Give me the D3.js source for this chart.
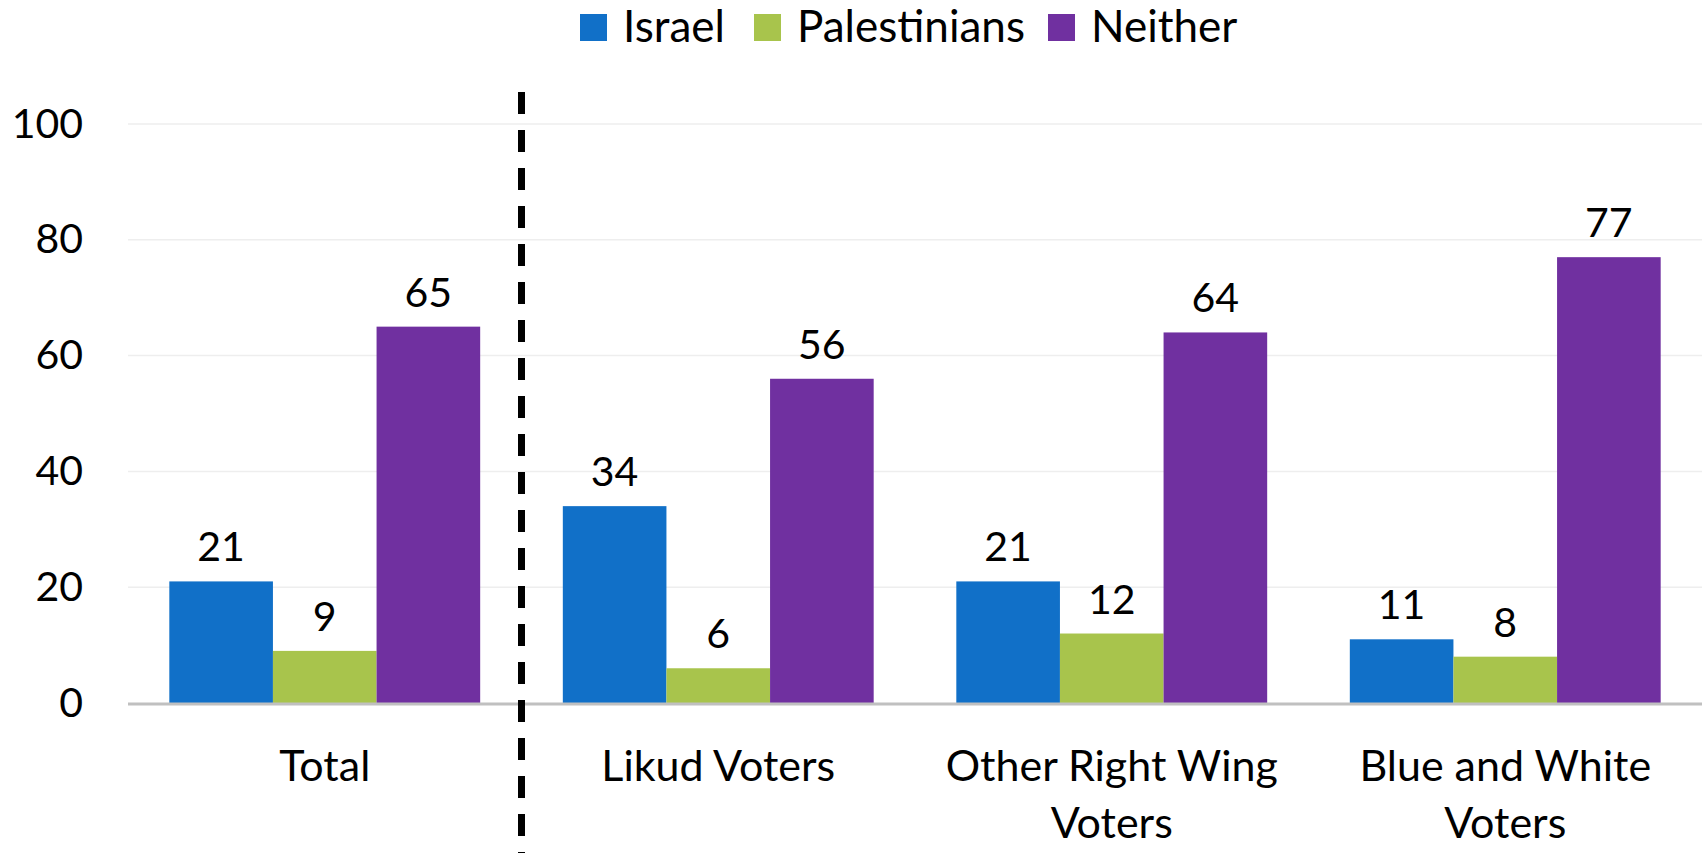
<!DOCTYPE html>
<html>
<head>
<meta charset="utf-8">
<script src="https://cdn.jsdelivr.net/npm/d3@7"></script>
<style>
  body { margin: 0; background: #fff; }
  svg { display: block; font-family: Lato, "Open Sans", sans-serif; }
</style>
</head>
<body>
<div id="chart"></div>
<script>
// data
const categories = ["Total", "Likud Voters", "Other Right Wing Voters", "Blue and White Voters"];
const seriesNames = ["Israel", "Palestinians", "Neither"];
const israel = [21, 34, 21, 11];
const palestinians = [9, 6, 12, 8];
const neither = [65, 56, 64, 77];
const yTicks = [0, 20, 40, 60, 80, 100];

const colors = ["#1170C8", "#A8C44C", "#7030A0"];
const values = [israel, palestinians, neither];

const width = 1708,
    height = 853,
    margin = ({ top: 124, right: 6, bottom: 150, left: 128 });

let svg = d3.select("#chart")
            .append("svg")
            .attr("width", width)
            .attr("height", height);

const x = d3.scaleBand()
            .domain(categories)
            .range([margin.left, width - margin.right])
            .paddingInner(0.21)
            .paddingOuter(0.105);

const xs = d3.scaleBand()
            .domain(seriesNames)
            .range([0, x.bandwidth()]);

const y = d3.scaleLinear()
            .domain([0, 100])
            .range([height - margin.bottom, margin.top]);

// grid lines
svg.append("g")
    .selectAll("line")
    .data(yTicks.filter(d => d > 0))
    .join("line")
    .attr("x1", margin.left)
    .attr("x2", width - margin.right)
    .attr("y1", d => y(d))
    .attr("y2", d => y(d))
    .attr("stroke", "#eeeeee")
    .attr("stroke-width", 1.5);

// y axis labels
const yAxis = (g) => g
    .attr("transform", `translate(${margin.left - 45}, 0)`)
    .call(d3.axisLeft(y).tickValues(yTicks).tickSize(0).tickPadding(0))
    .call(g => g.select(".domain").remove())
    .call(g => g.selectAll("text")
        .attr("font-size", 41)
        .attr("font-family", "Lato, sans-serif")
        .attr("fill", "#000"));

svg.append("g").call(yAxis);

// bars
let group = svg.selectAll(".grp")
    .data(categories)
    .join("g")
    .attr("class", "grp")
    .attr("transform", d => `translate(${x(d)}, 0)`);

let bar = group.selectAll(".bar")
    .data((c, i) => seriesNames.map((s, j) => ({ s: s, v: values[j][i], c: colors[j] })))
    .join("g")
    .attr("class", "bar");

bar.append("rect")
    .attr("fill", d => d.c)
    .attr("x", d => xs(d.s))
    .attr("width", xs.bandwidth())
    .attr("y", d => y(d.v))
    .attr("height", d => y(0) - y(d.v));

bar.append("text")
    .text(d => d.v)
    .attr("x", d => xs(d.s) + xs.bandwidth() / 2)
    .attr("y", d => y(d.v) - 20)
    .attr("text-anchor", "middle")
    .attr("font-size", 41)
    .attr("fill", "#000");

// baseline
svg.append("line")
    .attr("x1", margin.left)
    .attr("x2", width - margin.right)
    .attr("y1", y(0) + 1)
    .attr("y2", y(0) + 1)
    .attr("stroke", "#c0c0c0")
    .attr("stroke-width", 3);

// category labels, wrapped
const maxW = x.step() * 0.95;
categories.forEach(c => {
    const t = svg.append("text")
        .attr("x", x(c) + x.bandwidth() / 2)
        .attr("y", y(0) + 78)
        .attr("text-anchor", "middle")
        .attr("font-size", 43)
        .attr("fill", "#000");
    const words = c.split(" ");
    let line = [];
    let tspan = t.append("tspan").attr("x", x(c) + x.bandwidth() / 2).attr("dy", 0);
    words.forEach(w => {
        line.push(w);
        tspan.text(line.join(" "));
        if (tspan.node().getComputedTextLength() > maxW && line.length > 1) {
            line.pop();
            tspan.text(line.join(" "));
            line = [w];
            tspan = t.append("tspan")
                .attr("x", x(c) + x.bandwidth() / 2)
                .attr("dy", 57)
                .text(w);
        }
    });
});

// dashed separator between Total and the rest
const sepX = x(categories[1]) - x.step() * x.paddingInner() / 2;
svg.append("line")
    .attr("x1", sepX)
    .attr("x2", sepX)
    .attr("y1", 92)
    .attr("y2", height)
    .attr("stroke", "#000")
    .attr("stroke-width", 7)
    .attr("stroke-dasharray", "22,16");

// legend
const legendX = [580, 754, 1048];
let legend = svg.append("g")
    .selectAll("g")
    .data(seriesNames)
    .join("g")
    .attr("transform", (d, i) => `translate(${legendX[i]}, 14)`);

legend.append("rect")
    .attr("width", 27)
    .attr("height", 27)
    .attr("fill", (d, i) => colors[i]);

legend.append("text")
    .text(d => d)
    .attr("x", 43)
    .attr("y", 28)
    .attr("font-size", 44)
    .attr("fill", "#000");
</script>
</body>
</html>
